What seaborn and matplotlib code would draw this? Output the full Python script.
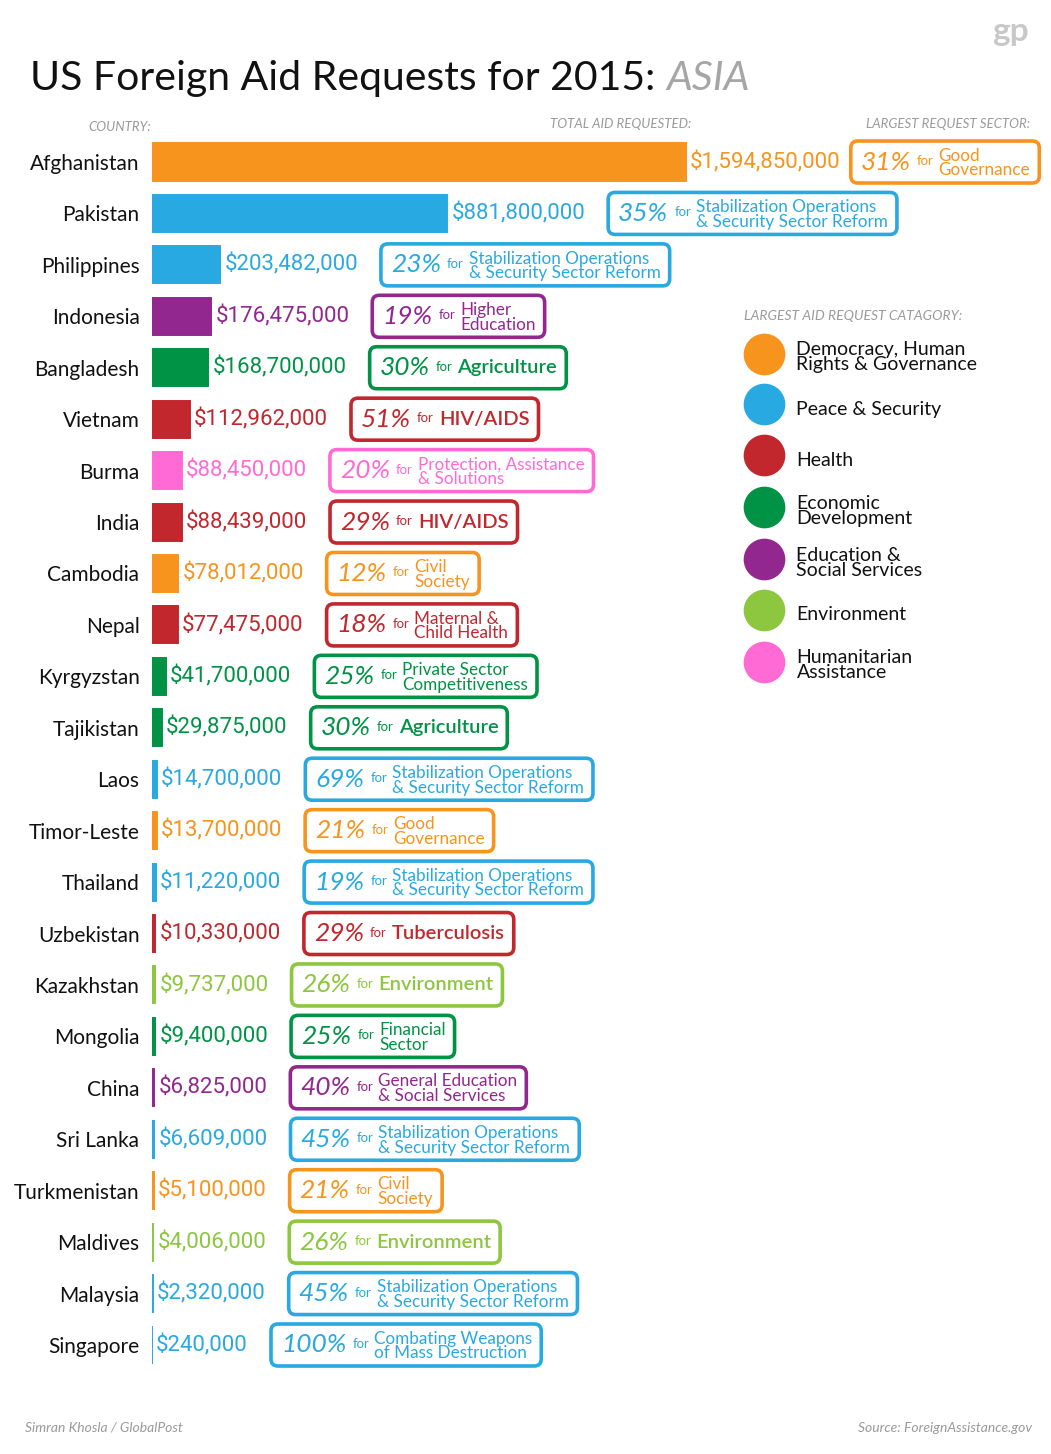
import pandas as pd
import seaborn as sns
import matplotlib.pyplot as plt
import matplotlib.transforms as mtransforms
from matplotlib import font_manager as fm
from matplotlib.patches import FancyBboxPatch
from matplotlib.lines import Line2D

countries = ["Afghanistan", "Pakistan", "Philippines", "Indonesia", "Bangladesh", "Vietnam",
             "Burma", "India", "Cambodia", "Nepal", "Kyrgyzstan", "Tajikistan", "Laos",
             "Timor-Leste", "Thailand", "Uzbekistan", "Kazakhstan", "Mongolia", "China",
             "Sri Lanka", "Turkmenistan", "Maldives", "Malaysia", "Singapore"]
aid = [1594850000, 881800000, 203482000, 176475000, 168700000, 112962000,
       88450000, 88439000, 78012000, 77475000, 41700000, 29875000, 14700000,
       13700000, 11220000, 10330000, 9737000, 9400000, 6825000,
       6609000, 5100000, 4006000, 2320000, 240000]
category = ["dem", "peace", "peace", "edu", "econ", "health",
            "hum", "health", "dem", "health", "econ", "econ", "peace",
            "dem", "peace", "health", "env", "econ", "edu",
            "peace", "dem", "env", "peace", "peace"]
share = [31, 35, 23, 19, 30, 51, 20, 29, 12, 18, 25, 30, 69, 21, 19, 29, 26, 25, 40, 45, 21, 26, 45, 100]
stab = "Stabilization Operations\n& Security Sector Reform"
sector = ["Good\nGovernance", stab, stab, "Higher\nEducation", "Agriculture", "HIV/AIDS",
          "Protection, Assistance\n& Solutions", "HIV/AIDS", "Civil\nSociety", "Maternal &\nChild Health",
          "Private Sector\nCompetitiveness", "Agriculture", stab, "Good\nGovernance", stab,
          "Tuberculosis", "Environment", "Financial\nSector", "General Education\n& Social Services",
          stab, "Civil\nSociety", "Environment", stab, "Combating Weapons\nof Mass Destruction"]

cat_keys = ["dem", "peace", "health", "econ", "edu", "env", "hum"]
cat_labels = ["Democracy, Human\nRights & Governance", "Peace & Security", "Health",
              "Economic\nDevelopment", "Education &\nSocial Services", "Environment",
              "Humanitarian\nAssistance"]
cat_colors = ["#F7941D", "#29A9E1", "#C1272D", "#009245", "#92278F", "#8DC63F", "#FF6AD5"]
pal = dict(zip(cat_keys, cat_colors))

W, H = 1051, 1454
sns.set_theme(style="white")
plt.rcParams['font.family'] = ['Lato', 'DejaVu Sans']
GRAY = "#9a9a9a"
ident = mtransforms.IdentityTransform()

fig = plt.figure(figsize=(W / 100, H / 100), dpi=100)
fig.patch.set_facecolor("white")
r = fig.canvas.get_renderer()

# pick the narrowest installed face for the dollar amounts, sized to the original width
sample = "$881,800,000"
best = None
for fam in ["Liberation Sans Narrow", "DejaVu Sans", "Roboto", "Lato", "Open Sans",
            "Noto Sans", "Liberation Sans", "Inter"]:
    try:
        path = fm.findfont(fm.FontProperties(family=fam), fallback_to_default=False)
    except ValueError:
        continue
    prop = fm.FontProperties(fname=path, size=20)
    w = r.get_text_width_height_descent(sample, prop, ismath=False)[0]
    if best is None or w < best[1]:
        best = (path, w)
num_size = min(22, 20 * 134 / best[1] * 100 / fig.dpi) if best[1] > 0 else 16
num_prop = fm.FontProperties(fname=best[0], size=num_size)

# plot area: first row centred at y=162px, last at y=1345px
row = (1345 - 162) / (len(countries) - 1)
top_px, bot_px = 162 - row / 2, 1345 + row / 2
ax = fig.add_axes([152 / W, 1 - bot_px / H, (W - 152) / W, (bot_px - top_px) / H])

df = pd.DataFrame({"country": countries, "aid": aid, "cat": category})
sns.barplot(data=df, x="aid", y="country", hue="cat", palette=pal, dodge=False,
            width=0.72, saturation=1, legend=False, ax=ax)
for p in ax.patches:
    p.set_edgecolor(p.get_facecolor())
    p.set_linewidth(1.4)

ax.set_xlim(0, aid[0] * (W - 152) / (686 - 152))
ax.set_ylim(len(countries) - 0.5, -0.5)
ax.set_xticks([])
ax.set_xlabel("")
ax.set_ylabel("")
sns.despine(ax=ax, left=True, bottom=True)
ax.tick_params(axis="y", length=0, pad=9, labelsize=15, labelcolor="#111111")

# dollar amounts
labels = []
for i, (v, c) in enumerate(zip(aid, category)):
    t = ax.annotate(f"${v:,}", (v, i), xytext=(3, 0), textcoords="offset points",
                    va="center", ha="left", color=pal[c], fontproperties=num_prop)
    labels.append(t)

fig.canvas.draw()
r = fig.canvas.get_renderer()

# sector boxes
for i, t in enumerate(labels):
    col = pal[category[i]]
    yc = ax.transData.transform((0, i))[1]
    two = "\n" in sector[i]
    tp = fig.text(0, yc, f"{share[i]}%", transform=ident, va="center", ha="left",
                  color=col, fontsize=19, style="italic", zorder=5)
    tf = fig.text(0, yc + 1, "for", transform=ident, va="center", ha="left",
                  color=col, fontsize=9.5, zorder=5)
    if two:
        ts = fig.text(0, yc - 1, sector[i], transform=ident, va="center", ha="left",
                      color=col, fontsize=12.3, linespacing=0.9, zorder=5)
    else:
        ts = fig.text(0, yc, sector[i], transform=ident, va="center", ha="left",
                      color=col, fontsize=14.5, fontweight="semibold", zorder=5)
    wp = tp.get_window_extent(r).width
    wf = tf.get_window_extent(r).width
    ws = ts.get_window_extent(r).width
    bw = 10 + wp + 6 + wf + 5 + ws + 9
    x0 = t.get_window_extent(r).x1 + 23
    if i == 0:
        x0 = t.get_window_extent(r).x1 + 10
    if x0 + bw > W - 5:
        x0 = W - 5 - bw
    tp.set_x(x0 + 10)
    tf.set_x(x0 + 10 + wp + 6)
    ts.set_x(x0 + 10 + wp + 6 + wf + 5)
    box = FancyBboxPatch((x0, yc - 21), bw, 42, boxstyle="round,pad=0,rounding_size=7",
                         transform=ident, fc="white", ec=col, lw=2.6, zorder=2)
    fig.add_artist(box)

# title
tt = fig.text(30 / W, 1 - 90 / H, "US Foreign Aid Requests for 2015: ", fontsize=29.5,
              color="#111111", va="baseline", ha="left")
fig.canvas.draw()
ex = tt.get_window_extent(r)
fig.text(ex.x1, H - 90, "ASIA", transform=ident, fontsize=29.5, color="#a6a6a6",
         style="italic", va="baseline", ha="left")
fig.text(1010 / W, 1 - 32 / H, "gp", fontsize=24, fontweight="bold", color="#c8c8c8",
         ha="center", va="center")

# column headers
fig.text(151 / W, 1 - 127 / H, "COUNTRY:", fontsize=9.5, style="italic", color=GRAY,
         ha="right", va="center")
fig.text(550 / W, 1 - 124 / H, "TOTAL AID REQUESTED:", fontsize=9.5, style="italic",
         color=GRAY, ha="left", va="center")
fig.text(1030 / W, 1 - 124 / H, "LARGEST REQUEST SECTOR:", fontsize=9.5, style="italic",
         color=GRAY, ha="right", va="center")

# legend
handles = [Line2D([], [], marker="o", linestyle="", markersize=29,
                  markerfacecolor=c, markeredgecolor=c) for c in cat_colors]
leg = fig.legend(handles, cat_labels, loc="upper left", bbox_to_anchor=(744 / W, 1 - 310 / H),
                 frameon=False, fontsize=14, title="LARGEST AID REQUEST CATAGORY:",
                 title_fontsize=10, alignment="left", handlelength=2.1, handleheight=2.1,
                 handletextpad=0.6, labelspacing=1.0, borderpad=0, borderaxespad=0)
leg.get_title().set_color(GRAY)
leg.get_title().set_style("italic")
leg._legend_handle_box.sep = 2
for t in leg.get_texts():
    t.set_linespacing(0.85)
    t.set_color("#111111")

# footer
fig.text(25 / W, 1 - 1428 / H, "Simran Khosla / GlobalPost", fontsize=10, style="italic",
         color=GRAY, ha="left", va="center")
fig.text(1032 / W, 1 - 1428 / H, "Source: ForeignAssistance.gov", fontsize=10, style="italic",
         color=GRAY, ha="right", va="center")

fig.savefig("out.png", dpi=100, facecolor="white")
